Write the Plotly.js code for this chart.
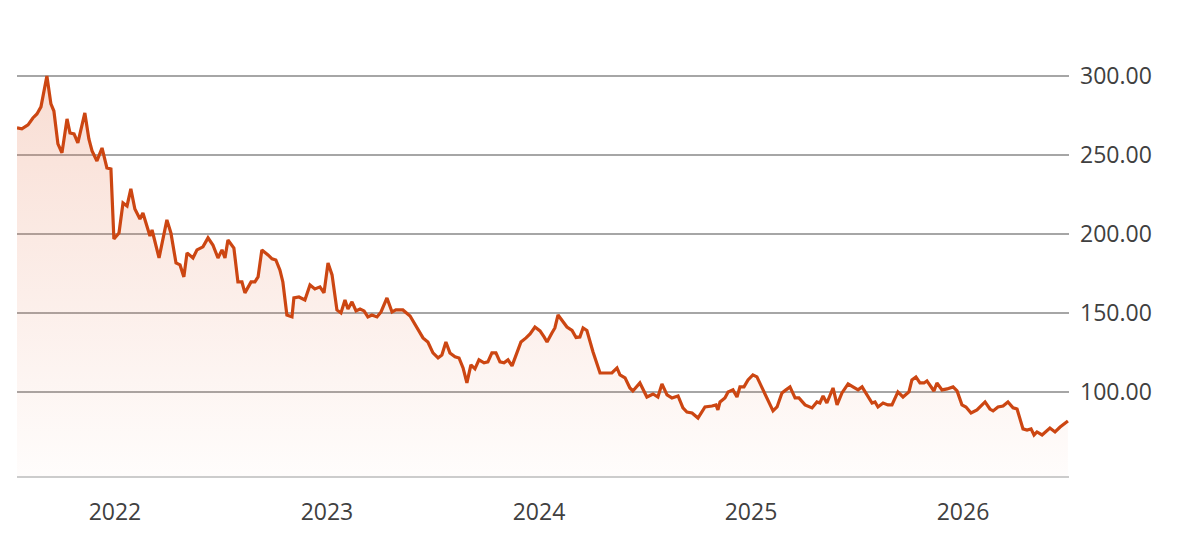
<!DOCTYPE html>
<html>
<head>
<meta charset="utf-8">
<script src="https://cdn.plot.ly/plotly-3.0.1.min.js"></script>
<style>html,body{margin:0;padding:0;background:#fff;}#chart{width:1180px;height:552px;}</style>
</head>
<body>
<div id="chart"></div>
<script>
// Time in fractional years
const years = [
2021.538,2021.561,2021.590,2021.613,2021.632,2021.651,2021.679,2021.698,2021.712,2021.731,
2021.750,2021.774,2021.788,2021.807,2021.825,2021.844,2021.858,2021.877,2021.892,2021.915,
2021.939,2021.962,2021.981,2021.995,2022.019,2022.038,2022.057,2022.075,2022.094,2022.118,
2022.132,2022.165,2022.175,2022.208,2022.245,2022.264,2022.288,2022.307,2022.325,2022.340,
2022.368,2022.387,2022.415,2022.439,2022.462,2022.486,2022.505,2022.519,2022.533,2022.561,
2022.580,2022.599,2022.613,2022.642,2022.660,2022.675,2022.693,2022.722,2022.741,2022.759,
2022.778,2022.792,2022.811,2022.835,2022.844,2022.868,2022.896,2022.920,2022.943,2022.967,
2022.986,2023.005,2023.024,2023.047,2023.066,2023.085,2023.099,2023.118,2023.137,2023.156,
2023.175,2023.193,2023.212,2023.236,2023.255,2023.283,2023.307,2023.325,2023.358,2023.392,
2023.429,2023.453,2023.476,2023.500,2023.524,2023.542,2023.561,2023.580,2023.604,2023.623,
2023.642,2023.660,2023.679,2023.698,2023.717,2023.741,2023.759,2023.778,2023.797,2023.816,
2023.835,2023.854,2023.873,2023.896,2023.915,2023.939,2023.958,2023.981,2024.005,2024.024,
2024.038,2024.061,2024.075,2024.090,2024.108,2024.132,2024.156,2024.175,2024.193,2024.208,
2024.226,2024.255,2024.288,2024.344,2024.368,2024.382,2024.406,2024.429,2024.443,2024.476,
2024.509,2024.538,2024.561,2024.580,2024.604,2024.627,2024.656,2024.679,2024.698,2024.722,
2024.750,2024.783,2024.816,2024.835,2024.844,2024.854,2024.877,2024.892,2024.915,2024.934,
2024.948,2024.967,2024.986,2025.009,2025.028,2025.057,2025.080,2025.104,2025.123,2025.146,
2025.165,2025.184,2025.208,2025.226,2025.255,2025.288,2025.311,2025.325,2025.340,2025.358,
2025.387,2025.406,2025.429,2025.458,2025.481,2025.505,2025.524,2025.547,2025.571,2025.585,
2025.599,2025.623,2025.646,2025.665,2025.693,2025.717,2025.745,2025.759,2025.778,2025.797,
2025.816,2025.830,2025.844,2025.863,2025.877,2025.901,2025.925,2025.953,2025.972,2025.995,
2026.014,2026.038,2026.066,2026.104,2026.127,2026.142,2026.165,2026.189,2026.212,2026.236,
2026.255,2026.283,2026.302,2026.321,2026.335,2026.349,2026.373,2026.396,2026.410,2026.434,
2026.458,2026.495
];
const prices = [
267.1,266.5,269.0,273.4,275.9,280.4,300.0,282.3,277.8,257.0,
251.3,272.8,263.9,263.3,257.6,268.4,276.6,260.1,252.5,246.2,
254.4,241.8,241.1,196.8,200.6,219.6,217.7,228.5,215.8,209.5,
213.3,198.7,202.5,184.8,208.9,200.6,181.6,180.4,172.8,188.0,
184.8,189.9,191.8,197.5,193.0,184.8,189.9,184.8,196.2,191.1,
169.6,169.6,162.7,169.6,169.6,172.8,189.9,186.7,184.2,183.5,
177.2,169.6,148.7,147.5,159.5,160.1,158.2,167.7,165.2,166.5,
162.7,181.6,174.1,151.9,150.0,158.2,152.5,157.0,151.3,152.5,
151.3,147.5,148.7,147.5,150.6,159.5,150.6,151.9,151.9,148.1,
139.2,134.2,131.6,124.7,121.5,123.4,131.6,124.7,122.2,121.5,
115.2,105.7,117.1,114.6,120.3,118.4,119.0,124.7,124.7,119.0,
118.4,120.3,116.5,125.3,131.6,134.2,136.7,141.1,138.6,134.8,
131.6,137.3,140.5,148.7,145.6,141.1,138.9,134.5,134.8,140.5,
138.9,125.3,112.0,112.0,115.2,110.8,108.9,102.5,100.6,105.7,
96.8,98.7,96.8,105.1,98.1,96.2,97.5,89.9,87.3,86.7,
83.5,90.5,91.1,91.8,88.6,93.7,96.2,100.0,101.3,96.8,
103.2,103.2,107.6,110.8,109.5,101.3,93.7,88.0,90.5,99.4,
101.3,103.2,96.2,96.2,91.8,89.9,93.7,93.0,97.5,93.0,
102.5,91.8,99.4,105.1,103.2,101.3,103.2,98.1,93.0,93.7,
90.5,93.0,91.8,91.8,100.0,96.8,100.0,107.6,109.5,105.7,
105.7,107.0,104.4,100.6,105.7,101.3,101.9,103.2,100.6,91.8,
90.5,86.7,88.6,93.7,89.2,88.0,90.5,91.1,93.7,89.9,
89.2,76.6,75.9,76.6,72.8,74.7,72.8,75.9,77.2,74.7,
77.8,81.6
];
const xTickVals = [2022, 2023, 2024, 2025, 2026];
const xTickText = ["2022", "2023", "2024", "2025", "2026"];
const yTickVals = [100, 150, 200, 250, 300];

const trace = {
  x: years,
  y: prices,
  type: 'scatter',
  mode: 'lines',
  line: {color: '#cc4612', width: 3.2, shape: 'linear'},
  fill: 'tozeroy',
  fillgradient: {
    type: 'vertical',
    start: 47,
    stop: 300,
    colorscale: [[0, 'rgba(230,120,80,0.02)'], [1, 'rgba(230,120,80,0.25)']]
  },
  hoverinfo: 'skip'
};

const layout = {
  width: 1180,
  height: 552,
  margin: {l: 17, r: 111, t: 20, b: 76},
  paper_bgcolor: '#ffffff',
  plot_bgcolor: '#ffffff',
  showlegend: false,
  font: {family: '"Open Sans", sans-serif', color: '#404040', size: 23},
  xaxis: {
    type: 'linear',
    range: [2021.538, 2026.5],
    tickvals: xTickVals,
    ticktext: xTickText,
    showgrid: false,
    zeroline: false,
    showline: true,
    linecolor: '#cccccc',
    linewidth: 1.5,
    ticks: '',
    ticklabelstandoff: 15,
    tickfont: {size: 23, color: '#404040'}
  },
  yaxis: {
    side: 'right',
    range: [46.8, 335.4],
    tickvals: yTickVals,
    tickformat: '.2f',
    showgrid: true,
    gridcolor: '#a6a6a6',
    gridwidth: 1.5,
    zeroline: false,
    showline: false,
    ticks: '',
    ticklabelstandoff: 10,
    tickfont: {size: 23, color: '#404040'}
  }
};

Plotly.newPlot('chart', [trace], layout, {displayModeBar: false, staticPlot: true});
</script>
</body>
</html>
